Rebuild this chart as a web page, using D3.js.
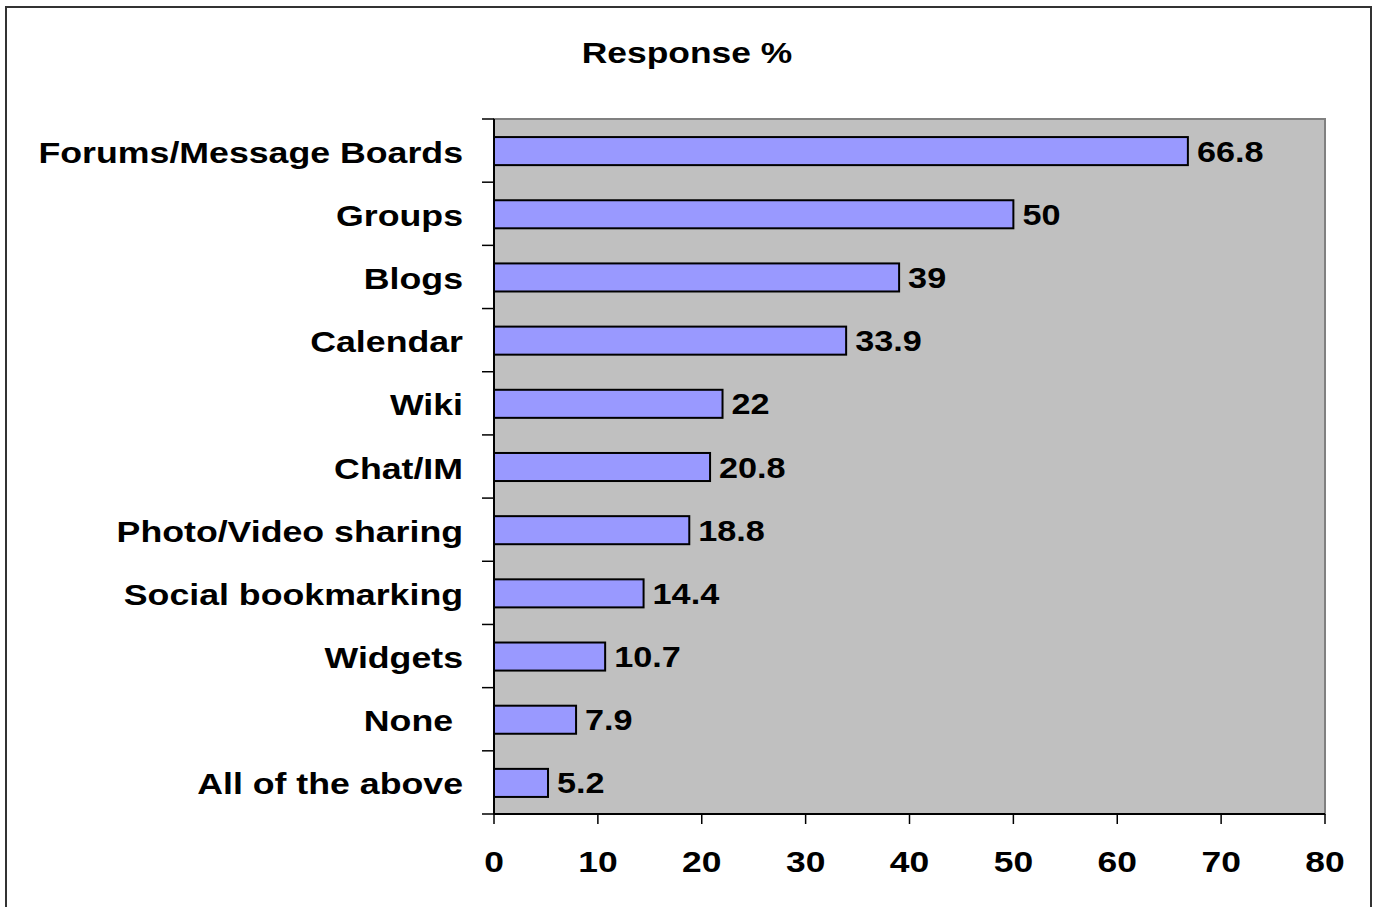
<!DOCTYPE html>
<html>
<head>
<meta charset="utf-8">
<script src="https://cdn.jsdelivr.net/npm/d3@7"></script>
<style>
  html, body { margin: 0; padding: 0; background: #fff; }
  svg { display: block; }
  text { font-family: "Liberation Sans", Arial, sans-serif; font-weight: bold; fill: #000; }
</style>
</head>
<body>
<svg id="chart" width="1380" height="907"></svg>
<script>
// data
const categories = ["Forums/Message Boards", "Groups", "Blogs", "Calendar", "Wiki", "Chat/IM",
  "Photo/Video sharing", "Social bookmarking", "Widgets", "None ", "All of the above"];
const values = [66.8, 50, 39, 33.9, 22, 20.8, 18.8, 14.4, 10.7, 7.9, 5.2];
const xTicks = [0, 10, 20, 30, 40, 50, 60, 70, 80];
const title = "Response %";

const svg = d3.select("#chart");

// plot area
const plot = { left: 494, top: 119, right: 1325, bottom: 814 };
const stretch = 1.18; // the reference text is a bit wider than tall
const fontSize = 30;

const x = d3.scaleLinear().domain([0, 80]).range([plot.left, plot.right]);
const y = d3.scaleBand().domain(categories).range([plot.top, plot.bottom])
  .paddingInner(0.556).paddingOuter(0.278);
const yBand = d3.scaleBand().domain(categories).range([plot.top, plot.bottom]);

// outer frame
svg.append("rect").attr("x", 6).attr("y", 7).attr("width", 1365).attr("height", 920)
  .attr("fill", "none").attr("stroke", "#333").attr("stroke-width", 2);

// plot background
svg.append("rect").attr("x", plot.left).attr("y", plot.top)
  .attr("width", plot.right - plot.left).attr("height", plot.bottom - plot.top)
  .attr("fill", "#c0c0c0").attr("stroke", "#808080").attr("stroke-width", 2);

// title
svg.append("text").attr("transform", `translate(687,63) scale(${stretch},1)`)
  .attr("text-anchor", "middle").attr("font-size", fontSize).text(title);

// bars
svg.append("g").selectAll("rect").data(values).join("rect")
  .attr("x", x(0))
  .attr("y", (d, i) => y(categories[i]) + 0.5)
  .attr("width", d => x(d) - x(0))
  .attr("height", y.bandwidth())
  .attr("fill", "#9999ff").attr("stroke", "#000").attr("stroke-width", 2);

// value labels
svg.append("g").selectAll("text").data(values).join("text")
  .attr("transform", (d, i) => `translate(${x(d) + 9},${y(categories[i]) + y.bandwidth() / 2 + 11}) scale(${stretch},1)`)
  .attr("font-size", fontSize - 1)
  .text(d => d);

// category labels
svg.append("g").selectAll("text").data(categories).join("text")
  .attr("transform", d => `translate(463,${yBand(d) + yBand.bandwidth() / 2 + 12}) scale(1.19,1)`)
  .attr("text-anchor", "end").attr("font-size", fontSize)
  .style("white-space", "pre")
  .text(d => d);

// y axis: line and ticks at category boundaries
const yAxis = svg.append("g");
yAxis.append("line").attr("x1", plot.left).attr("x2", plot.left)
  .attr("y1", plot.top).attr("y2", plot.bottom).attr("stroke", "#000").attr("stroke-width", 2);
const bounds = categories.map(c => yBand(c)).concat([plot.bottom]);
yAxis.selectAll("line.tick").data(bounds).join("line").attr("class", "tick")
  .attr("x1", plot.left - 12).attr("x2", plot.left)
  .attr("y1", d => d).attr("y2", d => d)
  .attr("stroke", "#000").attr("stroke-width", 1.5);

// x axis
const xAxis = svg.append("g");
xAxis.append("line").attr("x1", plot.left).attr("x2", plot.right)
  .attr("y1", plot.bottom).attr("y2", plot.bottom).attr("stroke", "#000").attr("stroke-width", 2);
xAxis.selectAll("line.tick").data(xTicks).join("line").attr("class", "tick")
  .attr("x1", d => x(d)).attr("x2", d => x(d))
  .attr("y1", plot.bottom).attr("y2", plot.bottom + 10)
  .attr("stroke", "#000").attr("stroke-width", 1.5);
xAxis.selectAll("text").data(xTicks).join("text")
  .attr("transform", d => `translate(${x(d)},872) scale(${stretch},1)`)
  .attr("text-anchor", "middle").attr("font-size", fontSize)
  .text(d => d);
</script>
</body>
</html>
